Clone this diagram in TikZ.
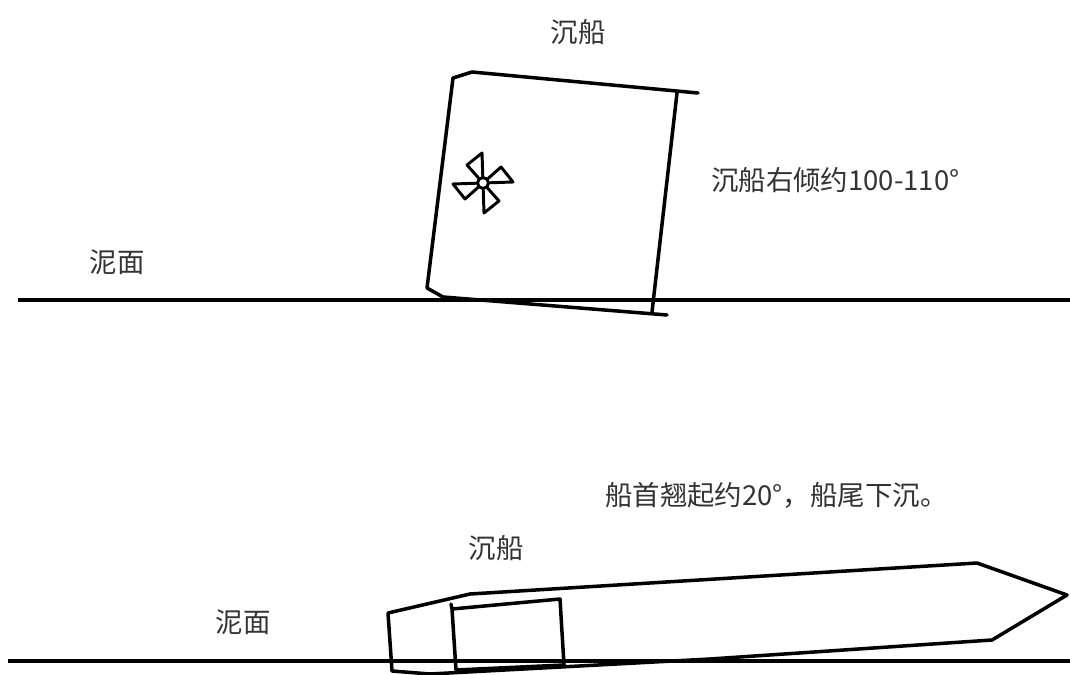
\documentclass[tikz,border=0pt]{standalone}
\usepackage{fontspec}
\usepackage{tikz}
\newfontfamily\cjk{Noto Sans CJK SC}

\begin{document}
\begin{tikzpicture}[
  x=0.025cm, y=-0.025cm,
  every node/.style={font=\cjk\fontsize{19.5}{22}\selectfont, text=black!80, inner sep=0pt},
  hull/.style={line width=2.5pt, line join=round, line cap=round},
  mud/.style={line width=2.4pt},
  blade/.style={line width=2.1pt, line join=round},
]
\useasboundingbox (0,0) rectangle (1070,675);

% Upper view: ship heeled over, lying on the mud
\node at (578,32) (wreck1) {沉船};
\node at (117,262) (mud1) {泥面};
\node[anchor=west] at (711,180) (heel) {沉船右倾约100-110°};
\draw[mud] (18,300) -- (1070,300);

\draw[hull] (698,93) -- (472,72) -- (453,78) -- (427,288) -- (443,297) -- (667,315);
\draw[hull] (677,93) -- (652,312);

% propeller
\begin{scope}[shift={(483,183)}]
  \foreach \r in {0,90,180,270}
    \draw[blade, rotate=\r] (0,0) -- (-1,-30) -- (-16,-18) -- cycle;
  \draw[blade, fill=white] (0,0) circle (5.5);
\end{scope}

% Lower view: bow raised, stern in the mud
\node[anchor=west] at (605,495) (trim) {船首翘起约20°，船尾下沉。};
\node at (496,548) (wreck2) {沉船};
\node at (243,622) (mud2) {泥面};
\draw[mud] (8,661) -- (1070,661);

\draw[hull] (977,563) -- (470,594) -- (388,613) -- (392,671) -- (430,674)
  -- (710,659) -- (992,640) -- (1067,595) -- cycle;
\draw[hull] (451,604) -- (452,609) -- (560,599) -- (564,665) -- (456,670) -- (452,609);

\end{tikzpicture}
\end{document}
